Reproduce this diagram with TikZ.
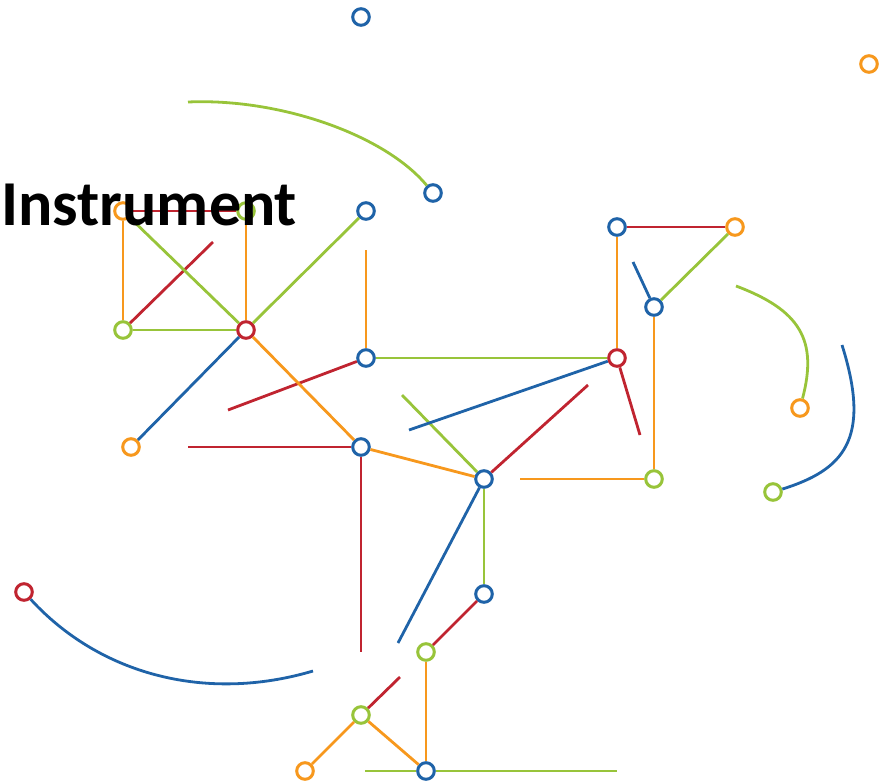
\documentclass[tikz,border=0pt]{standalone}
\usepackage{fontspec}
\newfontfamily\titlefont{Carlito}
\usetikzlibrary{calc}
\definecolor{mblue}{RGB}{31,99,168}
\definecolor{morange}{RGB}{247,152,29}
\definecolor{mgreen}{RGB}{152,196,58}
\definecolor{mred}{RGB}{192,36,48}
\begin{document}
\begin{tikzpicture}[x=0.5pt,y=-0.5pt,
	stn/.style={circle,draw=#1,fill=white,line width=1.5pt,minimum size=8.3pt,inner sep=0pt},
	ln/.style={line width=1.4pt,draw=#1}]
	\useasboundingbox (0,0) rectangle (879,783);

	% stations
	\node[stn=mblue] (b1) at (361,17) {};
	\node[stn=mblue] (b2) at (433,193) {};
	\node[stn=mblue] (b3) at (366,211) {};
	\node[stn=mblue] (b4) at (617,227) {};
	\node[stn=mblue] (b5) at (654,307) {};
	\node[stn=mblue] (b6) at (366,358) {};
	\node[stn=mblue] (b7) at (361,447) {};
	\node[stn=mblue] (b8) at (484,479) {};
	\node[stn=mblue] (b9) at (484,594) {};
	\node[stn=mblue] (b10) at (426,771) {};
	\node[stn=morange] (o1) at (869,64) {};
	\node[stn=morange] (o2) at (123,211) {};
	\node[stn=morange] (o3) at (735,227) {};
	\node[stn=morange] (o4) at (131,447) {};
	\node[stn=morange] (o5) at (800,408) {};
	\node[stn=morange] (o6) at (305,771) {};
	\node[stn=mgreen] (g1) at (246,211) {};
	\node[stn=mgreen] (g2) at (123,330) {};
	\node[stn=mgreen] (g3) at (654,479) {};
	\node[stn=mgreen] (g4) at (773,492) {};
	\node[stn=mgreen] (g5) at (426,652) {};
	\node[stn=mgreen] (g6) at (361,715) {};
	\node[stn=mred] (r1) at (246,330) {};
	\node[stn=mred] (r2) at (617,358) {};
	\node[stn=mred] (r3) at (24,592) {};

	% loose ends
	\coordinate (e1) at (213,242);
	\coordinate (e2) at (228,410);
	\coordinate (e3) at (188,447);
	\coordinate (e4) at (361,652);
	\coordinate (e5) at (588,385);
	\coordinate (e6) at (640,435);
	\coordinate (e7) at (400,677);
	\coordinate (e8) at (366,250);
	\coordinate (e9) at (520,479);
	\coordinate (e10) at (402,395);
	\coordinate (e11) at (365,771);
	\coordinate (e12) at (617,771);
	\coordinate (e13) at (188,102);
	\coordinate (e14) at (736,286);
	\coordinate (e15) at (409,430);
	\coordinate (e16) at (633,262);
	\coordinate (e17) at (398,643);
	\coordinate (e18) at (313,671);
	\coordinate (e19) at (842,345);

	% red lines
	\draw[ln=mred] (o2) -- (g1);
	\draw[ln=mred] (g2) -- (e1);
	\draw[ln=mred] (b6) -- (e2);
	\draw[ln=mred] (b7) -- (e3);
	\draw[ln=mred] (b7) -- (e4);
	\draw[ln=mred] (b8) -- (e5);
	\draw[ln=mred] (r2) -- (e6);
	\draw[ln=mred] (b4) -- (o3);
	\draw[ln=mred] (b9) -- (g5);
	\draw[ln=mred] (g6) -- (e7);

	% orange lines
	\draw[ln=morange] (o2) -- (g2);
	\draw[ln=morange] (g1) -- (r1);
	\draw[ln=morange] (r1) -- (b7);
	\draw[ln=morange] (e8) -- (b6);
	\draw[ln=morange] (b7) -- (b8);
	\draw[ln=morange] (b4) -- (r2);
	\draw[ln=morange] (b5) -- (g3);
	\draw[ln=morange] (g3) -- (e9);
	\draw[ln=morange] (g5) -- (b10);
	\draw[ln=morange] (g6) -- (o6);
	\draw[ln=morange] (g6) -- (b10);

	% green lines
	\draw[ln=mgreen] (o2) -- (r1);
	\draw[ln=mgreen] (g2) -- (r1);
	\draw[ln=mgreen] (r1) -- (b3);
	\draw[ln=mgreen] (b6) -- (r2);
	\draw[ln=mgreen] (b8) -- (e10);
	\draw[ln=mgreen] (o3) -- (b5);
	\draw[ln=mgreen] (b8) -- (b9);
	\draw[ln=mgreen] (e11) -- (b10);
	\draw[ln=mgreen] (b10) -- (e12);
	\draw[ln=mgreen] (e13) .. controls (280,98) and (385,135) .. (b2);
	\draw[ln=mgreen] (e14) .. controls (800,310) and (818,340) .. (o5);

	% blue lines
	\draw[ln=mblue] (r1) -- (o4);
	\draw[ln=mblue] (r2) -- (e15);
	\draw[ln=mblue] (b5) -- (e16);
	\draw[ln=mblue] (b8) -- (e17);
	\draw[ln=mblue] (r3) .. controls (99,674) and (205,703) .. (e18);
	\draw[ln=mblue] (e19) .. controls (872,440) and (843,470) .. (g4);

	\node[anchor=base west,inner sep=0pt,font=\titlefont\bfseries\fontsize{32pt}{36pt}\selectfont] (title) at (1,225) {Instrument};

\end{tikzpicture}
\end{document}
